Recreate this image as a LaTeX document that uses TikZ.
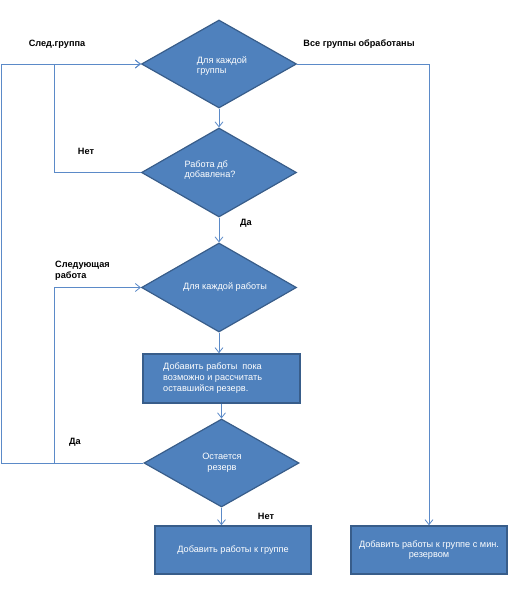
\documentclass[tikz,border=0pt]{standalone}
\usepackage{fontspec}
\setmainfont{Liberation Sans}
\usetikzlibrary{shapes.geometric,arrows.meta}
\definecolor{fillblue}{RGB}{79,129,189}
\definecolor{edgeblue}{RGB}{56,93,138}
\definecolor{linkblue}{RGB}{91,138,200}
\tikzset{
  dia/.style={diamond,draw=edgeblue,fill=fillblue,line width=1.2bp,inner sep=0pt,
    minimum width=155bp,minimum height=88bp},
  intext/.style={text=white,font=\fontsize{9.2}{10.8}\selectfont,inner sep=0pt},
  boxn/.style={rectangle,draw=edgeblue,fill=fillblue,line width=1.6bp,inner sep=0pt,
    minimum width=156bp,minimum height=48bp,intext},
  link/.style={draw=linkblue,line width=0.8bp},
  arr/.style={link,-{Straight Barb[length=5bp,width=8bp,line width=0.8bp]}},
  lbl/.style={font=\bfseries\fontsize{9.2}{11}\selectfont,text=black,inner sep=0pt}
}
\begin{document}
\begin{tikzpicture}[x=1bp,y=-1bp]
\useasboundingbox (0,0) rectangle (513,608);
% shapes
\node[dia] (d1) at (219,64) {};
\node[intext,align=left] (t1) at (222,66) {Для каждой\\группы};
\node[dia,minimum height=89bp] (d2) at (219,172.5) {};
\node[intext,align=left] (t2) at (210,170) {Работа дб\\добавлена?};
\node[dia,minimum height=89bp] (d3) at (219,287.5) {};
\node[intext] (t3) at (225,287) {Для каждой работы};
\node[boxn,minimum width=157bp,minimum height=49bp] (b1) at (221.5,378.5) {};
\node[intext,align=left,anchor=west] (tb1) at (163,378) {Добавить работы~ пока\\возможно и рассчитать\\оставшийся резерв.};
\node[dia] (d4) at (221.5,463) {};
\node[intext,align=center] (t4) at (222,463) {Остается\\резерв};
\node[boxn] (b2) at (233,550) {Добавить работы к группе};
\node[boxn,align=center] (b3) at (429,550) {Добавить работы к группе с мин.\\резервом};
% helper coordinates
\coordinate (xo) at (1,0);
\coordinate (xi) at (54,0);
\coordinate (xr) at (429,0);
% connectors
\draw[arr] (d1.south) -- (d2.north);
\draw[arr] (d2.south) -- (d3.north);
\draw[arr] (d3.south) -- (d3.south |- b1.north);
\draw[arr] (b1.south -| d4.north) -- (d4.north);
\draw[arr] (d4.south) -- (d4.south |- b2.north);
\draw[arr] (d1.east) -- (xr |- d1.east) -- (b3.north);
\draw[arr] (d2.west) -- (xi |- d2.west) -- (xi |- d1.west) -- (d1.west);
\draw[arr] (d4.west) -- (xo |- d4.west) -- (xo |- d1.west) -- (d1.west);
\draw[arr] (xi |- d4.west) -- (xi |- d3.west) -- (d3.west);
% labels
\node[lbl] (l1) at (57,44) {След.группа};
\node[lbl] (l2) at (359,44) {Все группы обработаны};
\node[lbl] (l3) at (86,151) {Нет};
\node[lbl] (l4) at (246,223) {Да};
\node[lbl,align=left,anchor=north west] (l5) at (55,261) {Следующая\\работа};
\node[lbl] (l6) at (75,442) {Да};
\node[lbl] (l7) at (266,516) {Нет};
\end{tikzpicture}
\end{document}
